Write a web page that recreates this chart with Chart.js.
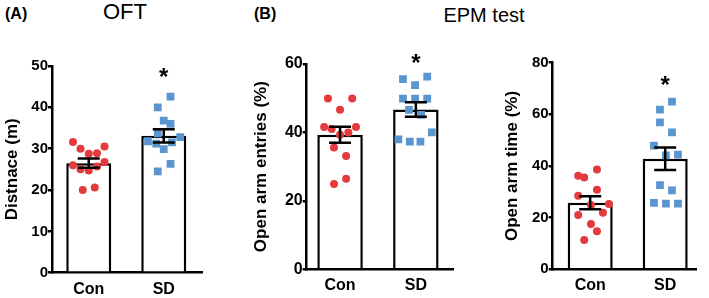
<!DOCTYPE html>
<html>
<head>
<meta charset="utf-8">
<script src="https://cdn.jsdelivr.net/npm/chart.js@4.4.0/dist/chart.umd.min.js"></script>
<style>
  body { margin: 0; background: #fff; width: 709px; height: 298px; overflow: hidden; position: relative; font-family: "Liberation Sans", Arial, sans-serif; }
  canvas { position: absolute; top: 0; }
  .lbl { position: absolute; white-space: nowrap; line-height: 1; color: #000; }
</style>
</head>
<body>
<div class="lbl" style="left:5px;top:6px;font-size:16px;font-weight:bold">(A)</div>
<div class="lbl" style="left:125px;top:1px;font-size:22px;transform:translateX(-50%)">OFT</div>
<div class="lbl" style="left:254px;top:6px;font-size:16px;font-weight:bold">(B)</div>
<div class="lbl" style="left:484px;top:5px;font-size:20px;transform:translateX(-50%)">EPM test</div>

<canvas id="chartA" width="240" height="298" style="left:0px"></canvas>
<canvas id="chartB" width="235" height="298" style="left:240px"></canvas>
<canvas id="chartC" width="234" height="298" style="left:475px"></canvas>

<script>
const groups = ['Con', 'SD'];

// OFT distance (m)
const oftCon = [31.6, 30.0, 28.8, 28.9, 30.5, 26.0, 25.0, 24.7, 25.7, 26.8, 20.0, 20.6];
const oftConJit = [-0.21, -0.11, 0, 0.11, 0.21, -0.21, -0.11, 0, 0.11, 0.21, -0.08, 0.08];
const oftSD = [42.6, 40.0, 36.8, 36.0, 33.7, 31.8, 31.2, 29.9, 31.5, 32.8, 26.3, 24.5];
const oftSDJit = [0.09, -0.08, 0, 0.09, -0.08, -0.21, -0.1, 0, 0.11, 0.22, 0.09, -0.08];
const oftMean = [26.5, 33.1];
const oftSem = [1.1, 1.6];

// EPM open arm entries (%)
const entCon = [49.9, 49.9, 46.6, 41.6, 41.0, 39.3, 40.0, 41.6, 35.6, 33.1, 26.5, 24.9];
const entConJit = [-0.16, 0.16, 0, -0.21, -0.11, 0, 0.11, 0.21, -0.08, 0.08, 0.08, -0.08];
const entSD = [55.6, 56.3, 53.8, 49.9, 49.9, 49.9, 46.6, 45.1, 40.0, 38.0, 37.3, 37.3];
const entSDJit = [-0.17, 0.15, -0.01, -0.17, -0.01, 0.15, -0.09, 0.07, 0.21, -0.23, -0.08, 0.06];
const entMean = [39.3, 46.7];
const entSem = [2.35, 2.1];

// EPM open arm time (%)
const timCon = [36.2, 35.5, 38.6, 30.8, 28.5, 25.3, 24.9, 21.0, 21.9, 17.5, 14.7, 11.3];
const timConJit = [-0.16, -0.08, 0.09, 0.09, -0.16, 0.25, 0.01, -0.16, 0.17, 0.01, 0.09, -0.08];
const timSD = [64.9, 61.8, 56.9, 53.0, 47.9, 44.1, 44.4, 32.6, 30.6, 25.7, 25.4, 25.4];
const timSDJit = [0.09, -0.07, -0.07, 0.09, -0.15, 0.01, 0.17, -0.07, 0.09, -0.15, 0.01, 0.17];
const timMean = [25.8, 42.8];
const timSem = [2.5, 4.35];

const yTicksA = [0, 10, 20, 30, 40, 50];
const yTicksB = [0, 20, 40, 60];
const yTicksC = [0, 20, 40, 60, 80];

const RED = '#e53a3d';
const BLUE = '#5b95d0';
const FONT = '"Liberation Sans", Arial, sans-serif';

// error bars (mean +/- SEM) and significance star
const errStar = {
  id: 'errStar',
  afterDatasetsDraw(chart, args, opts) {
    const { ctx, scales: { x, y } } = chart;
    ctx.save();
    ctx.strokeStyle = '#000';
    ctx.lineWidth = 2.5;
    opts.mean.forEach((m, i) => {
      const px = x.getPixelForValue(i);
      const hi = y.getPixelForValue(m + opts.sem[i]);
      const lo = y.getPixelForValue(m - opts.sem[i]);
      ctx.beginPath();
      ctx.moveTo(px, hi); ctx.lineTo(px, lo);
      ctx.moveTo(px - 11, hi); ctx.lineTo(px + 11, hi);
      ctx.moveTo(px - 11, lo); ctx.lineTo(px + 11, lo);
      ctx.stroke();
    });
    ctx.font = 'bold 24px ' + FONT;
    ctx.fillStyle = '#000';
    ctx.textAlign = 'center';
    ctx.textBaseline = 'alphabetic';
    ctx.fillText('*', x.getPixelForValue(1), y.getPixelForValue(opts.star) + 0.573 * 24);
    ctx.restore();
  }
};

function pts(vals, jit, g) {
  return vals.map((v, i) => ({ x: g + jit[i], y: v }));
}

function crtPanel({ elementId, con, conJit, sd, sdJit, mean, sem, yTicks, yTitle, star,
                    xMin, xMax, axisW, axisH, padTop, padRight, titlePad, tickSize }) {
  const ctx = document.getElementById(elementId).getContext('2d');
  return new Chart(ctx, {
    type: 'bar',
    data: {
      datasets: [
        {
          type: 'scatter',
          data: pts(con, conJit, 0),
          backgroundColor: RED,
          borderWidth: 0,
          pointStyle: 'circle',
          pointRadius: 4,
          order: 1
        },
        {
          type: 'scatter',
          data: pts(sd, sdJit, 1),
          backgroundColor: BLUE,
          borderWidth: 0,
          pointStyle: 'rect',
          pointRadius: 5.5,
          order: 1
        },
        {
          type: 'bar',
          data: mean.map((m, i) => ({ x: i, y: m })),
          backgroundColor: '#fff',
          borderColor: '#000',
          borderWidth: 2.5,
          barPercentage: 0.6,
          categoryPercentage: 1,
          order: 2
        }
      ]
    },
    options: {
      responsive: false,
      animation: false,
      events: [],
      layout: { padding: { top: padTop, right: padRight, left: 0, bottom: 0 } },
      plugins: {
        legend: { display: false },
        tooltip: { enabled: false },
        errStar: { mean: mean, sem: sem, star: star }
      },
      scales: {
        x: {
          type: 'linear',
          offset: false,
          min: xMin,
          max: xMax,
          afterBuildTicks: s => { s.ticks = groups.map((g, i) => ({ value: i })); },
          afterFit: s => { s.height = axisH; },
          grid: { display: false, drawTicks: false, offset: false },
          border: { color: '#000', width: 2.5 },
          ticks: {
            autoSkip: false,
            maxRotation: 0,
            padding: 7,
            color: '#000',
            font: { family: FONT, size: 16, weight: 'bold' },
            callback: v => groups[v]
          }
        },
        y: {
          min: yTicks[0],
          max: yTicks[yTicks.length - 1],
          afterBuildTicks: s => { s.ticks = yTicks.map(v => ({ value: v })); },
          afterFit: s => { s.width = axisW; },
          grid: { drawOnChartArea: false, drawTicks: true, tickLength: 4, color: '#000', lineWidth: 2.5 },
          border: { color: '#000', width: 2.5 },
          ticks: {
            padding: 0,
            color: '#000',
            font: { family: FONT, size: tickSize, weight: 'bold' }
          },
          title: {
            display: true,
            text: yTitle,
            color: '#000',
            padding: { top: titlePad, bottom: 0 },
            font: { family: FONT, size: 17, weight: 'bold' }
          }
        }
      }
    },
    plugins: [errStar]
  });
}

crtPanel({
  elementId: 'chartA', con: oftCon, conJit: oftConJit, sd: oftSD, sdJit: oftSDJit,
  mean: oftMean, sem: oftSem, yTicks: yTicksA, yTitle: 'Distnace (m)', star: 48.7,
  xMin: -0.49, xMax: 1.51, axisW: 52, axisH: 25.3, padTop: 66, padRight: 38, titlePad: 2, tickSize: 15
});

crtPanel({
  elementId: 'chartB', con: entCon, conJit: entConJit, sd: entSD, sdJit: entSDJit,
  mean: entMean, sem: entSem, yTicks: yTicksB, yTitle: 'Open arm entries (%)', star: 62,
  xMin: -0.44, xMax: 1.49, axisW: 66.7, axisH: 28.7, padTop: 64, padRight: 22, titlePad: 11.5, tickSize: 16
});

crtPanel({
  elementId: 'chartC', con: timCon, conJit: timConJit, sd: timSD, sdJit: timSDJit,
  mean: timMean, sem: timSem, yTicks: yTicksC, yTitle: 'Open arm time (%)', star: 73.5,
  xMin: -0.5, xMax: 1.42, axisW: 77.7, axisH: 28.7, padTop: 62.7, padRight: 12.3, titlePad: 27.5, tickSize: 15
});
</script>
</body>
</html>
